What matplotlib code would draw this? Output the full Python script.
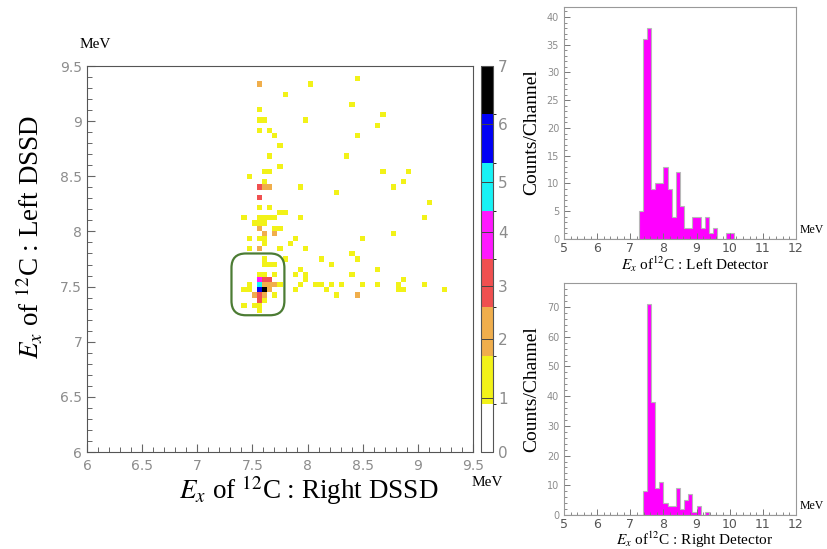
import numpy as np
import matplotlib
matplotlib.use('Agg')
import matplotlib.pyplot as plt
from matplotlib.colors import ListedColormap, BoundaryNorm
from matplotlib.patches import FancyBboxPatch
from matplotlib.ticker import MultipleLocator, FormatStrFormatter

plt.rcParams['mathtext.fontset'] = 'stix'

# 2D histogram: occupied cells (Ex right, Ex left, counts), 75 x 75 bins on 6-9.5 MeV
ex_right = [8.450,
            7.563, 8.030,
            7.797,
            8.403,
            7.563,
            8.683,
            7.563, 7.610, 7.983,
            8.637,
            7.563, 7.657,
            7.703, 8.450,
            7.750,
            7.657, 8.357,
            7.750,
            7.610, 7.657, 8.683, 8.917,
            7.470,
            7.610, 8.870,
            7.563, 7.610, 7.657, 7.937, 8.777,
            8.263,
            7.563,
            9.103,
            7.563, 7.657,
            7.750, 7.797,
            7.423, 7.563, 7.610, 7.657, 7.703, 7.937, 9.057,
            7.517, 7.563, 7.610,
            7.563, 7.703, 7.750,
            7.610, 7.703, 8.777,
            7.470, 7.563, 7.610, 7.890, 8.497,
            7.610, 7.843,
            7.470, 7.563, 7.750, 7.983,
            8.403,
            7.610, 7.797, 8.123, 8.450,
            7.610, 7.657, 7.703, 8.217,
            7.937, 8.637,
            7.563, 7.610, 7.703, 7.890, 7.983, 8.403,
            7.563, 7.610, 7.657, 7.983, 8.870,
            7.470, 7.563, 7.610, 7.657, 7.703, 7.750, 7.937, 8.077, 8.123, 8.217, 8.310, 8.497, 8.637, 8.823, 9.057,
            7.423, 7.470, 7.563, 7.610, 7.657, 7.890, 8.170, 8.823, 8.870, 9.243,
            7.517, 7.563, 7.610, 7.703, 8.263, 8.450,
            7.563, 7.610,
            7.423, 7.517, 7.563,
            7.563]
ex_left = [9.383,
           9.337, 9.337,
           9.243,
           9.150,
           9.103,
           9.057,
           9.010, 9.010, 9.010,
           8.963,
           8.917, 8.917,
           8.870, 8.870,
           8.777,
           8.683, 8.683,
           8.590,
           8.543, 8.543, 8.543, 8.543,
           8.497,
           8.450, 8.450,
           8.403, 8.403, 8.403, 8.403, 8.403,
           8.357,
           8.310,
           8.263,
           8.217, 8.217,
           8.170, 8.170,
           8.123, 8.123, 8.123, 8.123, 8.123, 8.123, 8.123,
           8.077, 8.077, 8.077,
           8.030, 8.030, 8.030,
           7.983, 7.983, 7.983,
           7.937, 7.937, 7.937, 7.937, 7.937,
           7.890, 7.890,
           7.843, 7.843, 7.843, 7.843,
           7.797,
           7.750, 7.750, 7.750, 7.750,
           7.703, 7.703, 7.703, 7.703,
           7.657, 7.657,
           7.610, 7.610, 7.610, 7.610, 7.610, 7.610,
           7.563, 7.563, 7.563, 7.563, 7.563,
           7.517, 7.517, 7.517, 7.517, 7.517, 7.517, 7.517, 7.517, 7.517, 7.517, 7.517, 7.517, 7.517, 7.517, 7.517,
           7.470, 7.470, 7.470, 7.470, 7.470, 7.470, 7.470, 7.470, 7.470, 7.470,
           7.423, 7.423, 7.423, 7.423, 7.423, 7.423,
           7.377, 7.377,
           7.330, 7.330, 7.330,
           7.283]
cell_counts = [1,
               2, 1,
               1,
               1,
               1,
               1,
               1, 1, 1,
               1,
               1, 1,
               1, 1,
               1,
               1, 1,
               1,
               1, 1, 1, 1,
               1,
               1, 1,
               3, 2, 2, 1, 1,
               1,
               3,
               1,
               1, 1,
               1, 1,
               1, 1, 1, 1, 1, 1, 1,
               1, 1, 1,
               2, 1, 1,
               2, 2, 1,
               1, 1, 1, 1, 1,
               1, 1,
               1, 2, 1, 1,
               1,
               1, 1, 1, 1,
               1, 1, 1, 1,
               1, 1,
               1, 1, 1, 1, 1, 1,
               4, 3, 3, 1, 1,
               1, 5, 2, 2, 2, 1, 1, 1, 1, 1, 1, 1, 1, 1, 1,
               1, 1, 6, 7, 2, 1, 1, 1, 1, 1,
               2, 3, 2, 1, 1, 2,
               3, 1,
               1, 1, 1,
               1]

# 1D projections, 0.125 MeV channels
left_start = 7.25
left_counts = [5, 36, 38, 9, 10, 10, 13, 9, 4, 12, 6, 2, 2, 4, 4, 2, 4, 1, 2, 0, 0, 1, 1]
right_start = 7.375
right_counts = [8, 71, 38, 9, 11, 4, 3, 3, 9, 2, 5, 7, 1, 3, 0, 1]

W, H = 827, 549
fig = plt.figure(figsize=(W / 100, H / 100), dpi=100)

def box(l, t, r, b):
    return [l / W, 1 - b / H, (r - l) / W, (b - t) / H]

gray_txt = '#8c8c8c'
serif = 'Liberation Serif'

# ---- main 2D plot ----
ax = fig.add_axes(box(87, 66, 473, 452))
levels = [0, 0.9, 1.7, 2.6, 3.5, 4.4, 5.4, 6.15, 7]
cmap = ListedColormap(['#ffffff', '#f2f218', '#f0ae4c', '#f05050', '#ff18ff', '#18f2f5', '#0000f5', '#000000'])
norm = BoundaryNorm(levels, cmap.N)
edges = np.linspace(6, 9.5, 76)
hh = ax.hist2d(ex_right, ex_left, bins=[edges, edges], weights=cell_counts,
               cmap=cmap, norm=norm, cmin=0.5)
ax.set_xlim(6, 9.5)
ax.set_ylim(6, 9.5)
ax.xaxis.set_major_locator(MultipleLocator(0.5))
ax.yaxis.set_major_locator(MultipleLocator(0.5))
ax.xaxis.set_minor_locator(MultipleLocator(0.1))
ax.yaxis.set_minor_locator(MultipleLocator(0.1))
ax.xaxis.set_major_formatter(FormatStrFormatter('%g'))
ax.yaxis.set_major_formatter(FormatStrFormatter('%g'))
ax.tick_params(which='both', direction='in', colors='#666666', labelcolor=gray_txt, labelsize=10)
ax.tick_params(which='major', length=6, width=0.8)
ax.tick_params(which='minor', length=3.5, width=0.7)
ax.tick_params(axis='x', pad=5)
for s in ax.spines.values():
    s.set_color('#555555')

rb = FancyBboxPatch((7.36, 7.29), 0.38, 0.46, boxstyle='round,pad=0.05,rounding_size=0.13',
                    fill=False, edgecolor='#4c7c34', linewidth=1.6)
ax.add_patch(rb)

cax = fig.add_axes(box(481, 66, 493, 452))
cb = fig.colorbar(hh[3], cax=cax, boundaries=levels, ticks=range(8))
cb.outline.set_edgecolor('#555555')
cax.tick_params(direction='in', length=9, width=0.7, colors='#444444', labelcolor=gray_txt, labelsize=11)
cax.set_yticklabels([str(i) for i in range(8)])

fig.text(95 / W, 1 - 45 / H, 'MeV', family=serif, fontsize=11, ha='center', va='center')
fig.text(487 / W, 1 - 483 / H, 'MeV', family=serif, fontsize=11, ha='center', va='center')
fig.text(309 / W, 1 - 490 / H, r'$E_x$ of $^{12}$C : Right DSSD', family=serif,
         fontsize=19.5, ha='center', va='center')
fig.text(30 / W, 1 - 237 / H, r'$E_x$ of $^{12}$C : Left DSSD', family=serif,
         fontsize=19.5, ha='center', va='center', rotation=90)

# ---- projections ----
hbins = np.arange(5, 12.0001, 0.125)

def projection(rect, start, counts, ymax, ymajor, yminor, title, ylab_y):
    hx = fig.add_axes(box(*rect))
    centers = start + 0.125 * (np.arange(len(counts)) + 0.5)
    hx.hist(centers, bins=hbins, weights=counts, histtype='stepfilled',
            facecolor='#ff00ff', edgecolor='#b8b8b8', linewidth=0.8)
    hx.set_xlim(5, 12)
    hx.set_ylim(0, ymax)
    hx.xaxis.set_major_locator(MultipleLocator(1))
    hx.xaxis.set_minor_locator(MultipleLocator(0.2))
    hx.yaxis.set_major_locator(MultipleLocator(ymajor))
    hx.yaxis.set_minor_locator(MultipleLocator(yminor))
    hx.tick_params(which='both', direction='in', colors='#777777', labelcolor=gray_txt)
    hx.tick_params(axis='x', labelsize=9, labelcolor='#555555', pad=2)
    hx.tick_params(axis='y', labelsize=7)
    hx.tick_params(which='major', length=4, width=0.7)
    hx.tick_params(which='minor', length=2.5, width=0.6)
    for s in hx.spines.values():
        s.set_color('#999999')
    l, t, r, b = rect
    fig.text((l + r) / 2 / W + 0.018, 1 - (b + 25) / H, title, family=serif,
             fontsize=11, ha='center', va='center')
    fig.text(532 / W, 1 - ylab_y / H, 'Counts/Channel', family=serif, fontsize=14,
             ha='center', va='center', rotation=90)
    fig.text(800 / W, 1 - (b - 9) / H, 'MeV', family=serif, fontsize=8.5,
             ha='left', va='center')
    return hx

projection((564, 7, 796, 239), left_start, left_counts, 41.8, 5, 1,
           r'$E_x$ of$^{12}$C : Left Detector', 132)
projection((564, 283, 796, 515), right_start, right_counts, 78.1, 10, 2,
           r'$E_x$ of$^{12}$C : Right Detector', 389)

fig.savefig('out.png', dpi=100)
